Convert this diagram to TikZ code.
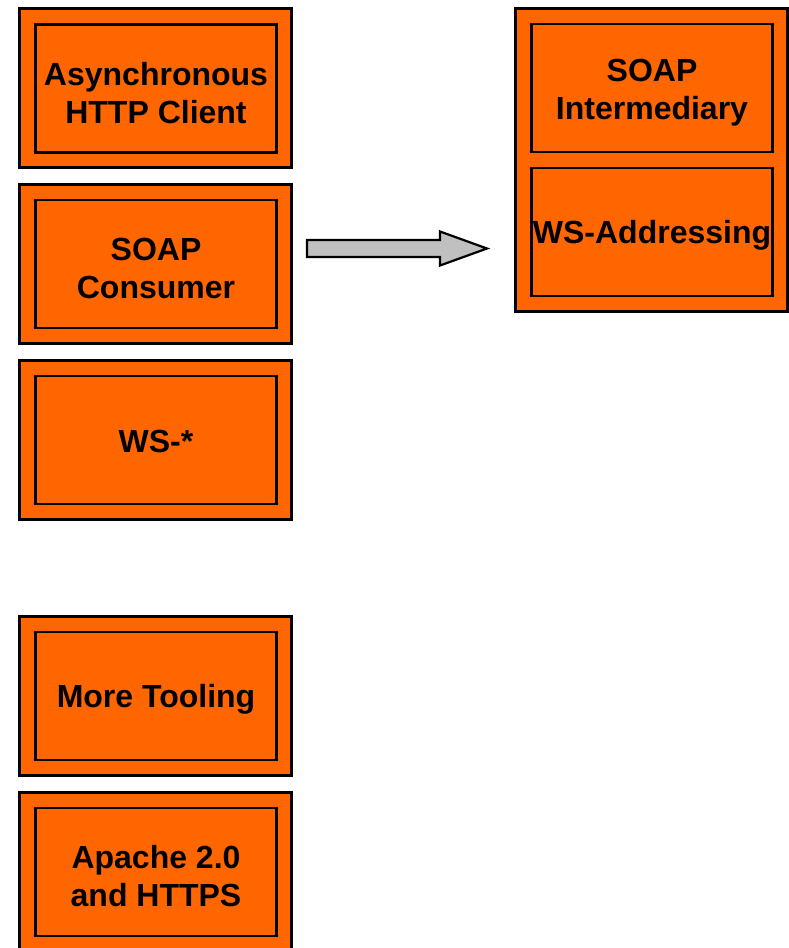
\documentclass[tikz,border=0pt]{standalone}
\usepackage{fontspec}
\setmainfont{Liberation Sans}
\definecolor{boxorange}{HTML}{FF6600}
\definecolor{arrowgray}{HTML}{C0C0C0}
\tikzset{
  outerbox/.style={draw=black, fill=boxorange, line width=2.6pt,
    minimum width=272pt, minimum height=159pt, inner sep=0pt},
  innerbox/.style={draw=black, line width=2.2pt,
    minimum width=241pt, minimum height=128pt, inner sep=0pt},
  boxtext/.style={inner sep=0pt, align=center,
    font=\fontsize{32}{38}\selectfont\bfseries},
  blockarrow/.style={draw=black, fill=arrowgray, line width=2.2pt, line join=miter},
}
\begin{document}
\begin{tikzpicture}[x=1pt, y=-1pt]
  \useasboundingbox (0,0) rectangle (789,948);
  \clip (0,0) rectangle (789,948);
  % left column
  \node[outerbox] (o1) at (155.5,88) {};
  \node[innerbox] (i1) at (156,88.5) {};
  \node[boxtext] (t1) at ([yshift=-4.5pt]i1.center) {Asynchronous\\HTTP Client};
  \node[outerbox] (o2) at (155.5,264) {};
  \node[innerbox] (i2) at (156,264) {};
  \node[boxtext] (t2) at ([yshift=-4.5pt]i2.center) {SOAP\\Consumer};
  \node[outerbox] (o3) at (155.5,440) {};
  \node[innerbox] (i3) at (156,440) {};
  \node[boxtext] (t3) at ([yshift=-1.5pt]i3.center) {WS-*};
  \node[outerbox] (o4) at (155.5,696) {};
  \node[innerbox] (i4) at (156,696) {};
  \node[boxtext] (t4) at ([yshift=-3.5pt]i4.center) {More Tooling};
  \node[outerbox] (o5) at (155.5,872) {};
  \node[innerbox] (i5) at (156,872) {};
  \node[boxtext] (t5) at ([yshift=-4.5pt]i5.center) {Apache 2.0\\and HTTPS};
  % right column
  \node[outerbox, minimum height=303pt] (o6) at (651.5,160) {};
  \node[innerbox] (i6) at (652,88) {};
  \node[boxtext] (t6) at ([yshift=-4.5pt]i6.center) {SOAP\\Intermediary};
  \node[innerbox] (i7) at (652,232) {};
  \node[boxtext] (t7) at ([yshift=-3.5pt]i7.center) {WS-Addressing};
  % block arrow
  \draw[blockarrow] (307,240) -- (440,240) -- (440,231.5) -- (487,248.5)
    -- (440,265.5) -- (440,257) -- (307,257) -- cycle;
\end{tikzpicture}
\end{document}
